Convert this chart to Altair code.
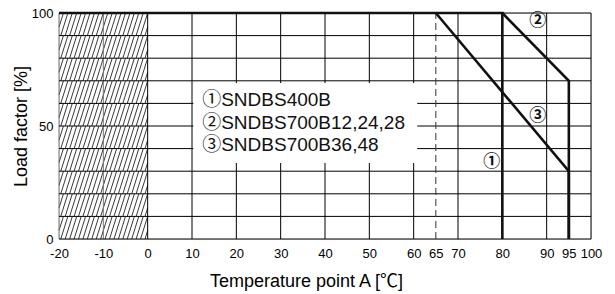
import altair as alt
import pandas as pd

FONT = "Liberation Sans, Arial, Noto Sans CJK JP"

# --- data ---
x_grid = [-20, -10, 0, 10, 20, 30, 40, 50, 60, 70, 80, 90, 100]
x_grid_color = ["#777777", "#777777", "#000000", "#000000", "#000000", "#000000", "#000000",
                "#000000", "#000000", "#000000", "#000000", "#000000", "#000000"]
y_grid = [0, 10, 20, 30, 40, 50, 60, 70, 80, 90, 100]
x_ticks = [-20, -10, 0, 10, 20, 30, 40, 50, 60, 65, 70, 80, 90, 95, 100]
y_ticks = [0, 50, 100]

series = ["1", "2", "3"]
curve1_x = [-20, 80, 80]
curve1_y = [100, 100, 0]
curve2_x = [80, 95, 95]
curve2_y = [100, 70, 0]
curve3_x = [65, 95, 95]
curve3_y = [100, 30, 0]

dashed_x = 65

legend_text = ["①SNDBS400B", "②SNDBS700B12,24,28", "③SNDBS700B36,48"]
legend_x = [12.3, 12.3, 12.3]
legend_y = [61.5, 51.5, 41.5]
box_x = [10.3, 60.8]
box_y = [33.6, 69.0]

marker_text = ["①", "②", "③"]
marker_x = [77.6, 88.0, 88.0]
marker_y = [34.0, 96.5, 54.5]

hatch_range = [-20, 0]
hatch_step = 1.0
hatch_dx = 1.6

# --- tables ---
xs = alt.Scale(domain=[-20, 100], nice=False, zero=False)
ys = alt.Scale(domain=[0, 100], nice=False, zero=False)

hrows = []
for y0 in range(0, 100, 10):
    k = 0
    while True:
        x0 = hatch_range[0] - hatch_dx + k * hatch_step
        if x0 >= hatch_range[1]:
            break
        xa, ya, xb, yb = x0, y0, x0 + hatch_dx, y0 + 10
        if xa < hatch_range[0]:
            ya = y0 + (hatch_range[0] - x0) / hatch_dx * 10
            xa = hatch_range[0]
        if xb > hatch_range[1]:
            yb = y0 + (hatch_range[1] - x0) / hatch_dx * 10
            xb = hatch_range[1]
        if xb > xa:
            hrows.append({"x": xa, "y": ya, "x2": xb, "y2": yb})
        k += 1
hatch_df = pd.DataFrame(hrows)

vgrid_df = pd.DataFrame({"x": x_grid, "c": x_grid_color})
hgrid_df = pd.DataFrame({"y": y_grid})

crows = []
for s, cx, cy in zip(series, [curve1_x, curve2_x, curve3_x], [curve1_y, curve2_y, curve3_y]):
    for i, (a, b) in enumerate(zip(cx, cy)):
        crows.append({"s": s, "o": i, "x": a, "y": b})
curve_df = pd.DataFrame(crows)

leg_df = pd.DataFrame({"t": legend_text, "x": legend_x, "y": legend_y})
mk_df = pd.DataFrame({"t": marker_text, "x": marker_x, "y": marker_y})
box_df = pd.DataFrame({"x": [box_x[0]], "x2": [box_x[1]], "y": [box_y[0]], "y2": [box_y[1]]})
dash_df = pd.DataFrame({"x": [dashed_x], "y": [0], "y2": [100]})

x_axis = alt.Axis(
    values=x_ticks, title="Temperature point A [℃]", ticks=False, domain=False, grid=False,
    labelFont=FONT, labelFontSize=13, labelColor="#000", labelPadding=8, labelFlush=False,
    labelOverlap=False, labelExpr="'' + datum.value",
    titleFont=FONT, titleFontSize=18, titleFontWeight="normal", titleColor="#000",
    titlePadding=12, titleX=247)
y_axis = alt.Axis(
    values=y_ticks, title="Load factor [%]", ticks=False, domain=False, grid=False,
    labelFont=FONT, labelFontSize=13, labelColor="#000", labelPadding=6,
    labelOverlap=False, labelExpr="'' + datum.value",
    titleFont=FONT, titleFontSize=18, titleFontWeight="normal", titleColor="#000",
    titlePadding=1)

X = lambda f: alt.X(f, scale=xs, axis=x_axis)
Y = lambda f: alt.Y(f, scale=ys, axis=y_axis)

hatch = alt.Chart(hatch_df).mark_rule(color="#222", strokeWidth=0.9).encode(
    x=X("x:Q"), y=Y("y:Q"), x2="x2", y2="y2")

vgrid = alt.Chart(vgrid_df).mark_rule(strokeWidth=1).encode(
    x=X("x:Q"), y=alt.value(0), y2=alt.value(226),
    color=alt.Color("c:N", scale=None))

hgrid = alt.Chart(hgrid_df).mark_rule(color="#000", strokeWidth=1).encode(
    y=Y("y:Q"), x=alt.value(0), x2=alt.value(532))

box = alt.Chart(box_df).mark_rect(color="white").encode(
    x=X("x:Q"), x2="x2", y=Y("y:Q"), y2="y2")

dash = alt.Chart(dash_df).mark_rule(color="#333", strokeWidth=1, strokeDash=[7, 4]).encode(
    x=X("x:Q"), y=Y("y:Q"), y2="y2")

curves = alt.Chart(curve_df).mark_line(color="#111", strokeWidth=2.6, strokeJoin="miter").encode(
    x=X("x:Q"), y=Y("y:Q"), detail="s:N", order="o:Q")

legend = alt.Chart(leg_df).mark_text(
    align="left", baseline="middle", font=FONT, fontSize=19, color="#111").encode(
    x=X("x:Q"), y=Y("y:Q"), text="t:N")

markers = alt.Chart(mk_df).mark_text(
    align="center", baseline="middle", font="Noto Sans CJK JP", fontSize=17,
    fontWeight="bold", color="#111").encode(
    x=X("x:Q"), y=Y("y:Q"), text="t:N")

chart = alt.layer(hatch, vgrid, hgrid, box, dash, curves, legend, markers).properties(
    width=532, height=226,
    autosize=alt.AutoSizeParams(type="none"),
    padding={"left": 51, "top": 5, "right": 16, "bottom": 54},
).configure_view(stroke=None).configure_axis(labelOverlap=False).configure(background="white")

chart.save("out.html", embed_options={"renderer": "svg", "actions": False})
